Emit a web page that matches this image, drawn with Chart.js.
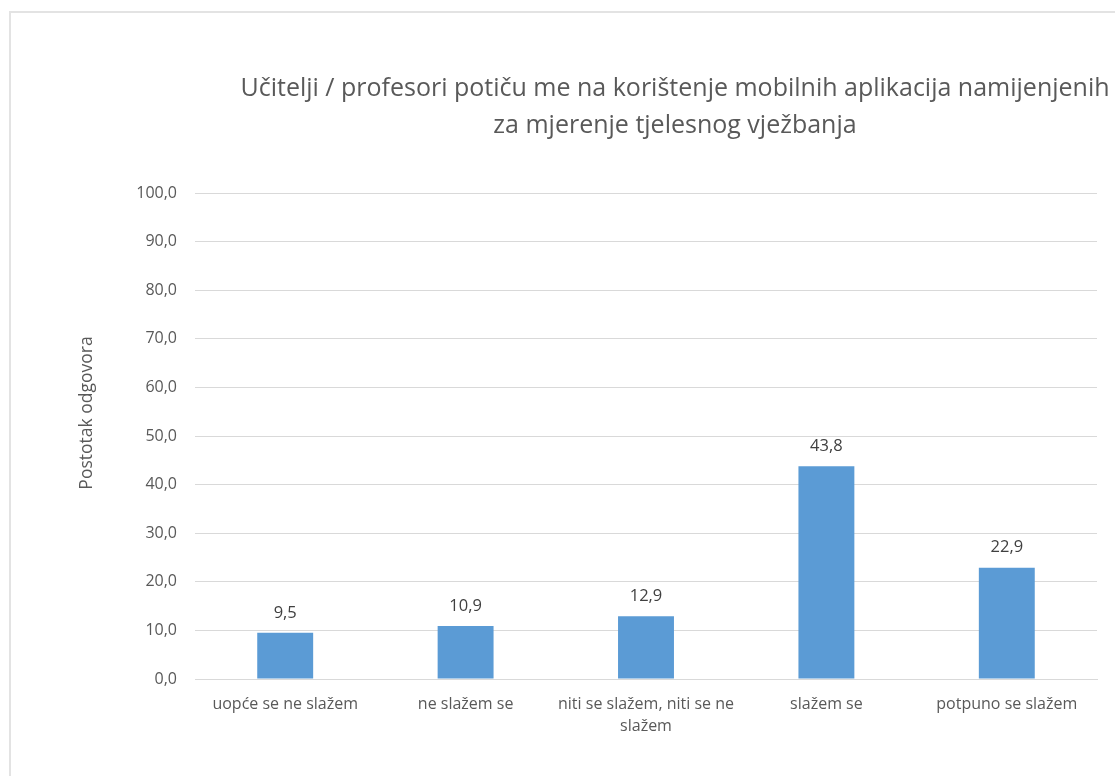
<!DOCTYPE html>
<html>
<head>
<meta charset="utf-8">
<script src="https://cdn.jsdelivr.net/npm/chart.js@4.4.1/dist/chart.umd.min.js"></script>
<style>
html,body{margin:0;padding:0;background:#fff;overflow:hidden;}
#wrap{position:absolute;left:0;top:0;width:1115px;height:776px;}
#frame{position:absolute;left:9px;top:11px;width:1400px;height:900px;border:2px solid #e3e3e3;box-sizing:border-box;}
canvas{position:absolute;left:0;top:0;}
</style>
</head>
<body>
<div id="wrap">
<div id="frame"></div>
<canvas id="c" width="1115" height="776"></canvas>
</div>
<script>
const categories = [
  "uopće se ne slažem",
  "ne slažem se",
  ["niti se slažem, niti se ne", "slažem"],
  "slažem se",
  "potpuno se slažem"
];
const values = [9.5, 10.9, 12.9, 43.8, 22.9];
const titleLines = [
  "Učitelji / profesori potiču me na korištenje mobilnih aplikacija namijenjenih",
  "za mjerenje tjelesnog vježbanja"
];
const yAxisTitle = "Postotak odgovora";
const FONT = "'Open Sans', sans-serif";
const fmt = v => v.toFixed(1).replace('.', ',');

const extras = {
  id: 'extras',
  afterDraw(chart) {
    const ctx = chart.ctx;
    ctx.save();
    // title
    ctx.fillStyle = '#595959';
    ctx.font = "25px " + FONT;
    ctx.textAlign = 'center';
    ctx.textBaseline = 'middle';
    ctx.fillText(titleLines[0], 675, 89);
    ctx.fillText(titleLines[1], 675, 126);
    // y axis title
    ctx.save();
    ctx.translate(87, 413);
    ctx.rotate(-Math.PI / 2);
    ctx.font = "17.5px " + FONT;
    ctx.fillText(yAxisTitle, 0, 0);
    ctx.restore();
    // data labels
    const meta = chart.getDatasetMeta(0);
    ctx.fillStyle = '#404040';
    ctx.font = "16.5px " + FONT;
    meta.data.forEach((bar, i) => {
      ctx.fillText(fmt(values[i]), bar.x, bar.y - 20);
    });
    ctx.restore();
  }
};

new Chart(document.getElementById('c'), {
  type: 'bar',
  data: {
    labels: categories,
    datasets: [{
      data: values,
      backgroundColor: '#5b9bd5',
      borderWidth: 0,
      barPercentage: 0.31,
      categoryPercentage: 1
    }]
  },
  options: {
    responsive: false,
    animation: false,
    layout: { padding: { left: 0, right: 18, top: 193, bottom: 0 } },
    plugins: { legend: { display: false }, title: { display: false }, tooltip: { enabled: false } },
    scales: {
      x: {
        grid: { display: false, drawTicks: false },
        border: { display: true, color: '#d9d9d9', width: 1 },
        ticks: { color: '#595959', font: { family: FONT, size: 16, lineHeight: 1.38 }, padding: 14, maxRotation: 0, autoSkip: false },
        afterFit(scale) { scale.height = 97; }
      },
      y: {
        min: 0, max: 100,
        grid: { color: '#d9d9d9', lineWidth: 1, drawTicks: false },
        border: { display: false },
        ticks: { stepSize: 10, color: '#595959', font: { family: FONT, size: 16 }, padding: 18, callback: v => fmt(v) },
        afterFit(scale) { scale.width = 195; }
      }
    }
  },
  plugins: [extras]
});
</script>
</body>
</html>
